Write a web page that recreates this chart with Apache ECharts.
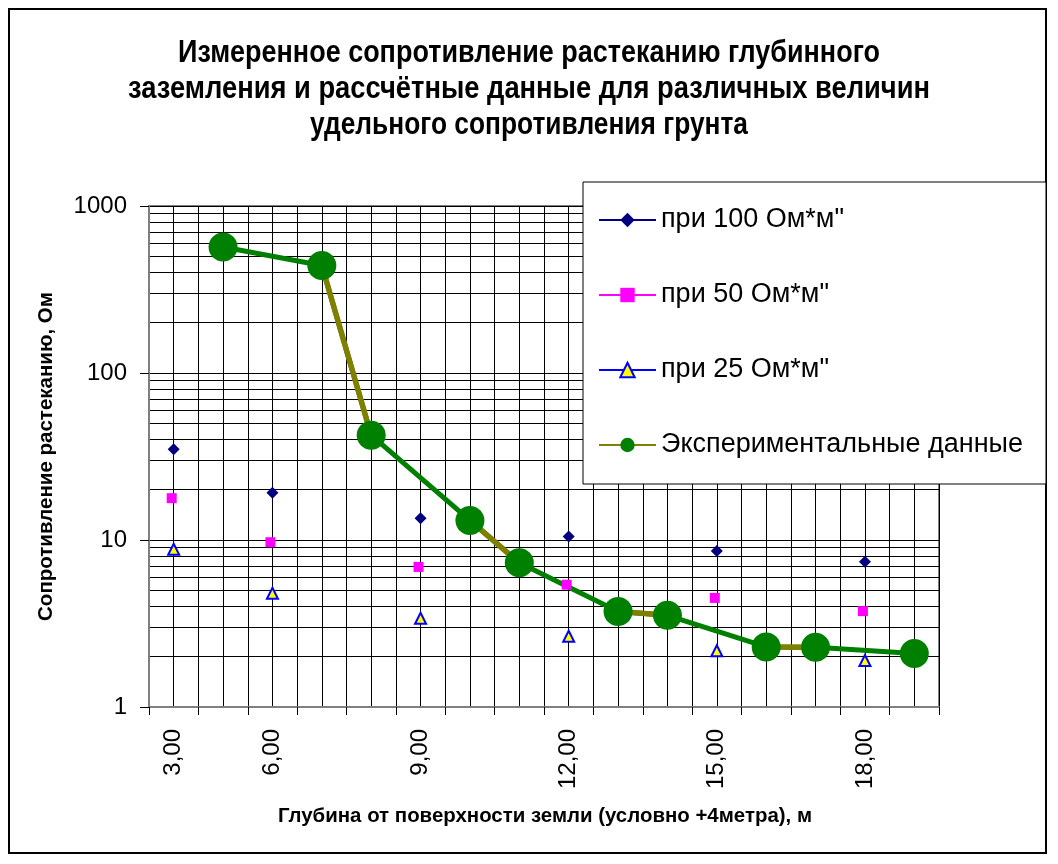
<!DOCTYPE html>
<html>
<head>
<meta charset="utf-8">
<script src="https://cdn.jsdelivr.net/npm/echarts@6/dist/echarts.min.js"></script>
<style>
html,body{margin:0;padding:0;background:#fff;}
#chart{width:1058px;height:864px;}
</style>
</head>
<body>
<div id="chart"></div>
<script>
// Category labels (depth, m); blank labels are unlabeled categories
const categories = ['3,00','','6,00','','','9,00','','','12,00','','','15,00','','','18,00',''];
// Calculated values, Ohm
const r100 = [34.9, null, 19.2, null, null, 13.5, null, null, 10.5, null, null, 8.6, null, null, 7.4, null];
const r50  = [17.8, null, 9.7, null, null, 6.9, null, null, 5.4, null, null, 4.5, null, null, 3.75, null];
const r25  = [8.8, null, 4.8, null, null, 3.4, null, null, 2.65, null, null, 2.17, null, null, 1.9, null];
// Experimental values, Ohm
const expData = [null, 568, null, 440, 42.4, null, 13.1, 7.3, null, 3.73, 3.54, null, 2.29, 2.28, null, 2.09];
const seriesNames = ['при 100 Ом*м"', 'при 50 Ом*м"', 'при 25 Ом*м"', 'Экспериментальные данные'];
const titleLines = [
  'Измеренное сопротивление растеканию глубинного',
  'заземления и рассчётные данные для различных величин',
  'удельного сопротивления грунта'
];
const xAxisTitle = 'Глубина от поверхности земли (условно +4метра), м';
const yAxisTitle = 'Сопротивление растеканию, Ом';

const FONT = 'Arial, "Liberation Sans", sans-serif';
const measureCtx = document.createElement('canvas').getContext('2d');
function condensedText(text, cx, cy, fontSize, targetWidth) {
  const font = 'bold ' + fontSize + 'px "Liberation Sans", Arial, sans-serif';
  measureCtx.font = font;
  const w = measureCtx.measureText(text).width;
  return {
    type: 'text', x: cx, y: cy, scaleX: Math.min(1, targetWidth / w), z: 10,
    style: {text: text, font: font, fill: '#000', align: 'center', verticalAlign: 'middle'}
  };
}

const chart = echarts.init(document.getElementById('chart'));

chart.setOption({
  backgroundColor: '#fff',
  animation: false,
  graphic: [
    {type: 'rect', shape: {x: 9, y: 9, width: 1037, height: 844},
     style: {fill: 'none', stroke: '#000', lineWidth: 2}, z: 0},
    condensedText(titleLines[0], 529, 53, 31, 702),
    condensedText(titleLines[1], 529, 89, 31, 802),
    condensedText(titleLines[2], 529, 125, 31, 438),
    condensedText(xAxisTitle, 545, 816, 21, 534)
  ],
  legend: {
    orient: 'vertical',
    left: 583, top: 182,
    padding: [23, 23, 24, 15],
    itemGap: 45,
    itemWidth: 57, itemHeight: 18,
    backgroundColor: '#fff',
    borderColor: '#000', borderWidth: 1,
    textStyle: {fontFamily: FONT, fontSize: 27, color: '#000', lineHeight: 30},
    data: seriesNames
  },
  grid: {left: 149, right: 119, top: 206, bottom: 157, show: true, borderColor: '#808080', borderWidth: 2},
  xAxis: [{
    type: 'value', min: 0, max: 16, interval: 1,
    axisLine: {show: true, lineStyle: {color: '#808080', width: 2}},
    axisTick: {show: true, length: 8, lineStyle: {color: '#000'}},
    axisLabel: {show: false},
    splitLine: {show: true, lineStyle: {color: '#000', width: 1}},
    minorTick: {show: false, splitNumber: 2},
    minorSplitLine: {show: true, lineStyle: {color: '#000', width: 1}}
  }, {
    type: 'category', data: categories, boundaryGap: true, position: 'bottom',
    axisLine: {show: false}, axisTick: {show: false}, splitLine: {show: false},
    axisLabel: {interval: 0, rotate: 90, margin: 22, fontFamily: FONT, fontSize: 24, color: '#000'}
  }],
  yAxis: {
    type: 'log', logBase: 10, min: 1, max: 1000,
    axisLine: {show: true, lineStyle: {color: '#808080', width: 2}},
    axisTick: {show: true, length: 9, lineStyle: {color: '#000'}},
    axisLabel: {fontFamily: FONT, fontSize: 24, color: '#000', margin: 22,
                formatter: function (v) { return String(Math.round(v)); }},
    splitLine: {show: true, lineStyle: {color: '#000', width: 1}},
    minorTick: {show: false, splitNumber: 9},
    minorSplitLine: {show: true, lineStyle: {color: '#000', width: 1}},
    name: yAxisTitle,
    nameLocation: 'middle', nameGap: 92,
    nameTextStyle: {fontFamily: FONT, fontWeight: 'bold', fontSize: 20.5, color: '#000'}
  },
  series: [
    {
      name: seriesNames[0], type: 'line', xAxisIndex: 1, data: r100,
      symbol: 'diamond', symbolSize: 12, connectNulls: false,
      itemStyle: {color: '#000080'}, lineStyle: {color: '#000080', width: 2}, z: 5
    },
    {
      name: seriesNames[1], type: 'line', xAxisIndex: 1, data: r50,
      symbol: 'rect', symbolSize: 10, symbolOffset: [-2, 0], connectNulls: false,
      itemStyle: {color: '#FF00FF'}, lineStyle: {color: '#FF00FF', width: 2}, z: 5
    },
    {
      name: seriesNames[2], type: 'line', xAxisIndex: 1, data: r25,
      symbol: 'triangle', symbolSize: 11, connectNulls: false,
      itemStyle: {color: '#FFFF00', borderColor: '#0000FF', borderWidth: 2},
      lineStyle: {color: '#0000FF', width: 2}, z: 5
    },
    {
      name: 'exp-gaps', type: 'line', xAxisIndex: 1, data: expData,
      connectNulls: true, showSymbol: false, symbol: 'none',
      lineStyle: {color: '#008000', width: 5}, z: 3, silent: true
    },
    {
      name: seriesNames[3], type: 'line', xAxisIndex: 1, data: expData,
      connectNulls: false, symbol: 'circle', symbolSize: 29,
      itemStyle: {color: '#008000'}, lineStyle: {color: '#808000', width: 5.5}, z: 4
    }
  ]
});
</script>
</body>
</html>
